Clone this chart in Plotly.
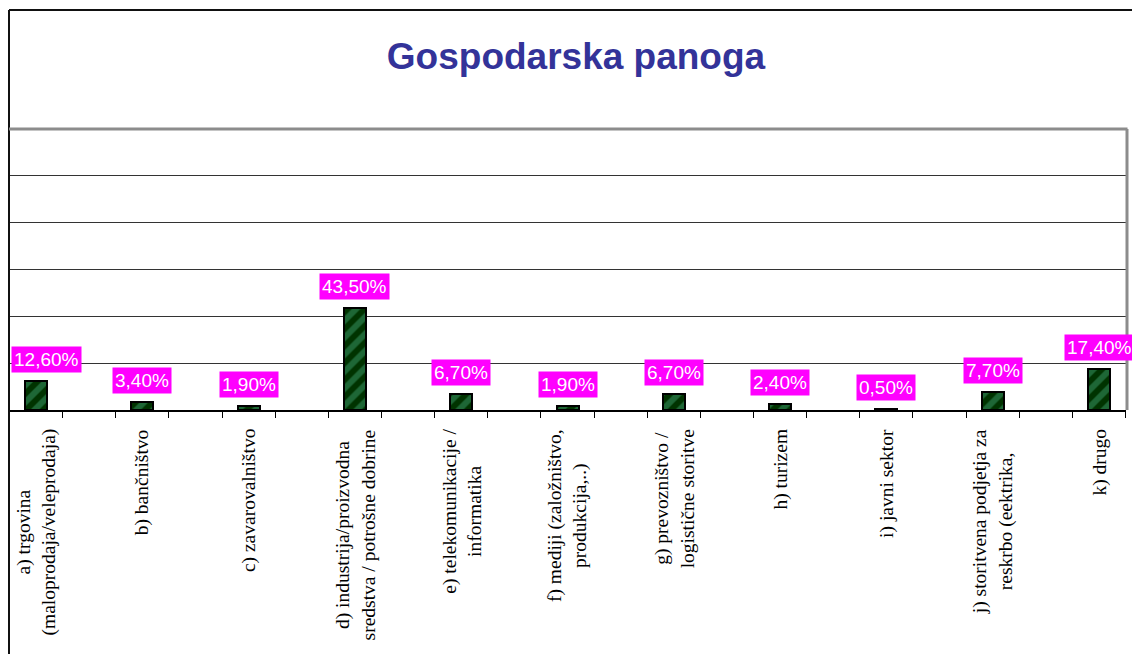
import plotly.graph_objects as go

# ---- data ----
categories = [
    "a) trgovina<br>(maloprodaja/veleprodaja)",
    "b) bančništvo",
    "c) zavarovalništvo",
    "d) industrija/proizvodna<br>sredstva / potrošne dobrine",
    "e) telekomunikacije /<br>informatika",
    "f) mediji (založništvo,<br>produkcija,..)",
    "g) prevozništvo /<br>logistične storitve",
    "h) turizem",
    "i) javni sektor",
    "j) storitvena podjetja za<br>reskrbo (eektrika,",
    "k) drugo",
]
values = [12.6, 3.4, 1.9, 43.5, 6.7, 1.9, 6.7, 2.4, 0.5, 7.7, 17.4]
title_text = "Gospodarska panoga"

# ---- layout constants (pixels) ----
W, H = 1132, 654
PL, PR, PT, PB = 10, 1126, 129, 410


def px_x(p):
    return (p - PL) / (PR - PL)


def px_y(p):
    return (PB - p) / (PB - PT)


xs = list(range(len(categories)))
labels = [f"{v:.2f}".replace(".", ",") + "%" for v in values]

fig = go.Figure()
fig.add_trace(go.Bar(
    x=xs, y=values, width=0.207,
    marker=dict(
        color="#003300",
        line=dict(color="#000000", width=2),
        pattern=dict(shape="/", fgcolor="#3C9C6C", bgcolor="#003300",
                     size=12, solidity=0.5),
    ),
    hoverinfo="skip",
))

annotations = []
for i, (v, lab) in enumerate(zip(values, labels)):
    annotations.append(dict(
        x=i, y=v, xref="x", yref="y", text=lab, showarrow=False,
        yanchor="bottom", xanchor="center", yshift=8,
        xshift=10 if i == 0 else 0,
        bgcolor="#FF00FF", borderpad=2,
        font=dict(family="Liberation Sans, Arial, sans-serif", size=19, color="#FFFFFF"),
    ))
for i, c in enumerate(categories):
    annotations.append(dict(
        x=i, y=0, xref="x", yref="paper", text=c, showarrow=False,
        textangle=-90, yanchor="top", xanchor="center", yshift=-17,
        align="center",
        font=dict(family="Liberation Serif, Times New Roman, serif", size=19.5, color="#000000"),
    ))

shapes = [
    # outer chart frame (top and left)
    dict(type="line", xref="paper", yref="paper", x0=px_x(9), x1=px_x(1140),
         y0=px_y(10), y1=px_y(10), line=dict(color="#111111", width=2)),
    dict(type="line", xref="paper", yref="paper", x0=px_x(9), x1=px_x(9),
         y0=px_y(10), y1=px_y(660), line=dict(color="#111111", width=2)),
    # plot area border top and right (gray)
    dict(type="line", xref="paper", yref="paper", x0=px_x(9), x1=px_x(1127.5),
         y0=1, y1=1, line=dict(color="#8C8C8C", width=3)),
    dict(type="line", xref="paper", yref="paper", x0=px_x(1127), x1=px_x(1127),
         y0=0, y1=1, line=dict(color="#8C8C8C", width=3)),
]

spacing = 106.3
first_center = 36
x_lo = (PL - first_center) / spacing
x_hi = (PR - first_center) / spacing
minor_ticks = [k * 0.5 + 0.25 for k in range(-1, 22) if x_lo - 0.01 <= k * 0.5 + 0.25 <= x_hi + 0.01]

fig.update_layout(
    width=W, height=H, autosize=False,
    margin=dict(l=PL, r=W - PR, t=PT, b=H - PB, pad=0),
    paper_bgcolor="#FFFFFF", plot_bgcolor="#FFFFFF",
    showlegend=False,
    title=dict(text=f"<b>{title_text}</b>", x=576 / W, xref="container", xanchor="center",
               y=1 - 56 / H, yref="container", yanchor="middle",
               font=dict(family="Liberation Sans, Arial, sans-serif", size=37, color="#333399")),
    xaxis=dict(range=[x_lo, x_hi], showgrid=False, zeroline=False,
               showticklabels=False, ticks="",
               showline=True, linecolor="#000000", linewidth=1.5,
               minor=dict(tickmode="array", tickvals=minor_ticks, ticks="outside",
                          ticklen=6, tickcolor="#000000", tickwidth=1, showgrid=False)),
    yaxis=dict(range=[0, 120], dtick=20, showgrid=True, gridcolor="#333333", gridwidth=1,
               zeroline=False, showticklabels=False, ticks="", showline=False),
    annotations=annotations,
    shapes=shapes,
    bargap=0,
)

fig.write_html(
    "out.html",
    config={"displayModeBar": False},
    post_script="document.body.style.margin='0px';document.body.style.overflow='hidden';",
)
